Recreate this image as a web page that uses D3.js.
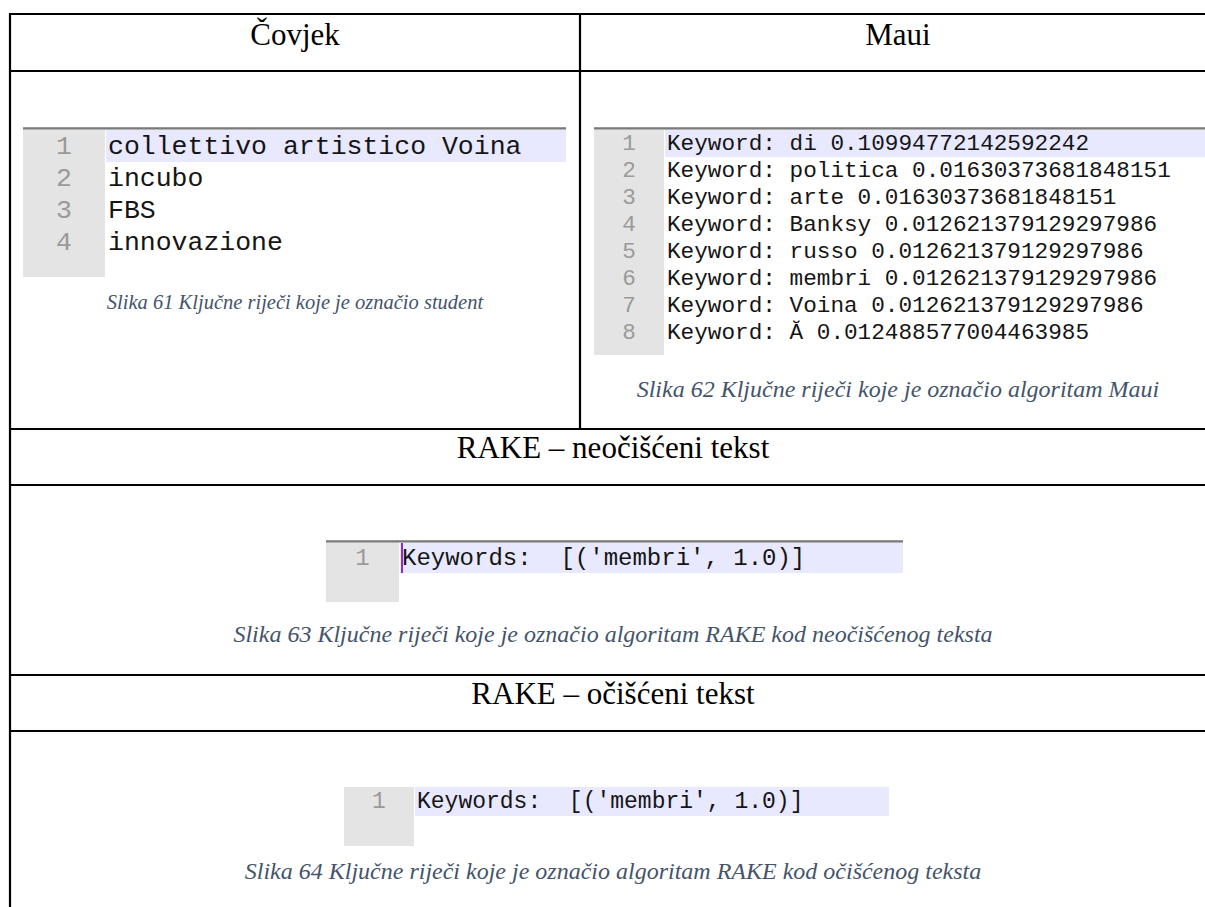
<!DOCTYPE html>
<html>
<head>
<meta charset="utf-8">
<script src="https://cdn.jsdelivr.net/npm/d3@7"></script>
<style>
  html, body { margin: 0; padding: 0; background: #fff; }
  svg { display: block; }
</style>
</head>
<body>
<svg id="chart" width="1205" height="907"></svg>
<script>
// ---------------- DATA ----------------
const columnHeaders = ["Čovjek", "Maui"];
const rakeHeaders = ["RAKE – neočišćeni tekst", "RAKE – očišćeni tekst"];
const humanKeywords = ["collettivo artistico Voina", "incubo", "FBS", "innovazione"];
const mauiKeywords = ["di", "politica", "arte", "Banksy", "russo", "membri", "Voina", "Ă"];
const mauiScores = [
  "0.10994772142592242",
  "0.01630373681848151",
  "0.01630373681848151",
  "0.012621379129297986",
  "0.012621379129297986",
  "0.012621379129297986",
  "0.012621379129297986",
  "0.012488577004463985"
];
const rakeRawOutput = ["Keywords:  [('membri', 1.0)]"];
const rakeCleanOutput = ["Keywords:  [('membri', 1.0)]"];
const captions = [
  "Slika 61 Ključne riječi koje je označio student",
  "Slika 62 Ključne riječi koje je označio algoritam Maui",
  "Slika 63 Ključne riječi koje je označio algoritam RAKE kod neočišćenog teksta",
  "Slika 64 Ključne riječi koje je označio algoritam RAKE kod očišćenog teksta"
];

// ---------------- LAYOUT ----------------
const W = 1205, H = 907;
const leftX = 10, divX = 580, rightX = 1216;
const rowLines = [14, 71, 429, 485, 675, 731];
const SERIF = "'Liberation Serif', 'Times New Roman', serif";
const MONO = "'Liberation Mono', 'Courier New', monospace";

const svg = d3.select("#chart");
svg.append("rect").attr("width", W).attr("height", H).attr("fill", "#fff");

const defs = svg.append("defs");
const grad = defs.append("linearGradient").attr("id", "barGrad")
  .attr("x1", 0).attr("y1", 0).attr("x2", 0).attr("y2", 1);
grad.append("stop").attr("offset", "0%").attr("stop-color", "#a8a8a8");
grad.append("stop").attr("offset", "50%").attr("stop-color", "#7a7a7a");
grad.append("stop").attr("offset", "100%").attr("stop-color", "#cfcfcf");

// ---------------- EDITOR SCREENSHOTS ----------------
const mauiLines = mauiKeywords.map((k, i) => `Keyword: ${k} ${mauiScores[i]}`);

const editors = [
  { lines: humanKeywords, x0: 23, gutterW: 82, textX: 108, right: 566, top: 127, bar: true, fs: 26.5, lh: 32, bottom: 277 },
  { lines: mauiLines, x0: 594, gutterW: 70, textX: 667, right: 1215, top: 127, bar: true, fs: 22.7, lh: 27, bottom: 355 },
  { lines: rakeRawOutput, x0: 326, gutterW: 73, textX: 402, right: 903, top: 540, bar: true, fs: 24, lh: 30, bottom: 602, cursor: true },
  { lines: rakeCleanOutput, x0: 344, gutterW: 70, textX: 417, right: 889, top: 787, bar: false, fs: 23, lh: 29, bottom: 846 }
];

editors.forEach(ed => {
  const g = svg.append("g");
  const barH = ed.bar ? 3 : 0;
  const start = ed.top + barH;
  const y = d3.scaleLinear().domain([0, 1]).range([start + ed.lh / 2, start + ed.lh / 2 + ed.lh]);
  // gutter
  g.append("rect").attr("x", ed.x0).attr("y", start)
    .attr("width", ed.gutterW).attr("height", ed.bottom - start).attr("fill", "#e4e4e4");
  // current-line highlight
  g.append("rect").attr("x", ed.textX - 2).attr("y", y(0) - ed.lh / 2)
    .attr("width", ed.right - ed.textX + 2).attr("height", ed.lh).attr("fill", "#e8e8ff");
  // top bar
  if (ed.bar) {
    g.append("rect").attr("x", ed.x0).attr("y", ed.top)
      .attr("width", ed.right - ed.x0).attr("height", barH).attr("fill", "url(#barGrad)");
  }
  if (ed.cursor) {
    g.append("rect").attr("x", ed.textX - 1).attr("y", y(0) - ed.lh / 2)
      .attr("width", 2).attr("height", ed.lh).attr("fill", "#8a2be2");
  }
  // line numbers
  g.selectAll("text.num").data(ed.lines).join("text")
    .attr("class", "num")
    .attr("x", ed.x0 + ed.gutterW / 2)
    .attr("y", (d, i) => y(i) + ed.fs * 0.3)
    .attr("text-anchor", "middle")
    .attr("font-family", MONO).attr("font-size", ed.fs)
    .attr("fill", "#9a9a9a")
    .text((d, i) => i + 1);
  // code lines
  g.selectAll("text.code").data(ed.lines).join("text")
    .attr("class", "code")
    .attr("x", ed.textX)
    .attr("y", (d, i) => y(i) + ed.fs * 0.3)
    .attr("font-family", MONO).attr("font-size", ed.fs)
    .attr("fill", "#151515")
    .attr("xml:space", "preserve")
    .style("white-space", "pre")
    .text(d => d);
});

// ---------------- TABLE GRID ----------------
const grid = svg.append("g").attr("stroke", "#000").attr("stroke-width", 2.2);
grid.selectAll("line.h").data(rowLines).join("line")
  .attr("class", "h")
  .attr("x1", leftX - 1).attr("x2", W)
  .attr("y1", d => d).attr("y2", d => d);
grid.append("line").attr("x1", leftX).attr("x2", leftX).attr("y1", rowLines[0] - 1).attr("y2", H);
grid.append("line").attr("x1", divX).attr("x2", divX).attr("y1", rowLines[0]).attr("y2", rowLines[2]);

// ---------------- HEADERS ----------------
const colCenters = [(leftX + divX) / 2, (divX + rightX) / 2];
const fullCenter = (leftX + rightX) / 2;

svg.selectAll("text.colhead").data(columnHeaders).join("text")
  .attr("class", "colhead")
  .attr("x", (d, i) => colCenters[i]).attr("y", 45)
  .attr("text-anchor", "middle")
  .attr("font-family", SERIF).attr("font-size", 31).attr("fill", "#000")
  .text(d => d);

const rakeHeadY = [458, 704];
svg.selectAll("text.rakehead").data(rakeHeaders).join("text")
  .attr("class", "rakehead")
  .attr("x", fullCenter).attr("y", (d, i) => rakeHeadY[i])
  .attr("text-anchor", "middle")
  .attr("font-family", SERIF).attr("font-size", 31).attr("fill", "#000")
  .text(d => d);

// ---------------- CAPTIONS ----------------
const capPos = [
  { x: colCenters[0], y: 309, fs: 20.5 },
  { x: colCenters[1], y: 397, fs: 24 },
  { x: fullCenter, y: 642, fs: 24 },
  { x: fullCenter, y: 879, fs: 24 }
];
svg.selectAll("text.cap").data(captions).join("text")
  .attr("class", "cap")
  .attr("x", (d, i) => capPos[i].x).attr("y", (d, i) => capPos[i].y)
  .attr("text-anchor", "middle")
  .attr("font-family", SERIF).attr("font-style", "italic")
  .attr("font-size", (d, i) => capPos[i].fs)
  .attr("fill", "#44546a")
  .text(d => d);
</script>
</body>
</html>
